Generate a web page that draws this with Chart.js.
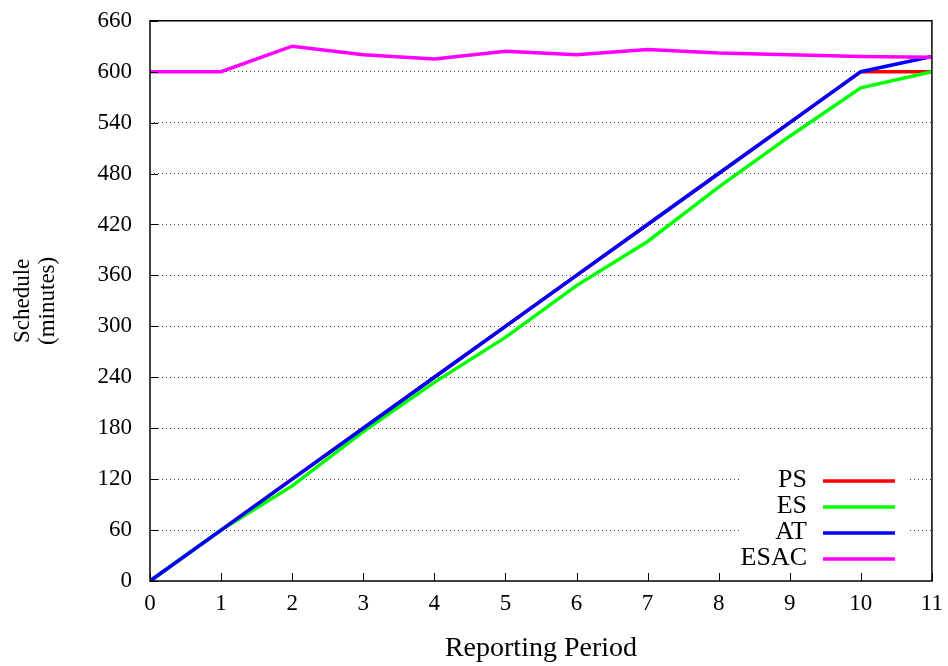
<!DOCTYPE html>
<html>
<head>
<meta charset="utf-8">
<script src="https://cdn.jsdelivr.net/npm/chart.js@4/dist/chart.umd.min.js"></script>
<style>
  html, body { margin: 0; padding: 0; background: #fff; }
  #wrap { width: 948px; height: 666px; overflow: hidden; position: relative; }
  #chart { position: absolute; left: 0; top: -3px; }
</style>
</head>
<body>
<div id="wrap"><canvas id="chart" width="952" height="669"></canvas></div>
<script>
const periods = [0, 1, 2, 3, 4, 5, 6, 7, 8, 9, 10, 11];
const psValues = [0, 60, 120, 180, 240, 300, 360, 420, 480, 540, 600, 600];
const esValues = [0, 60, 112, 176, 234, 287, 348, 400, 464, 524, 581, 600];
const atValues = [0, 60, 120, 180, 240, 300, 360, 420, 480, 540, 600, 618];
const esacValues = [600, 600, 630, 620, 615, 624, 620, 626, 622, 620, 618, 617];
const yTicks = [0, 60, 120, 180, 240, 300, 360, 420, 480, 540, 600, 660];

const fontFamily = "'Liberation Serif', 'DejaVu Serif', serif";

function toPoints(values) {
  return periods.map((p, i) => ({ x: p, y: values[i] }));
}

// frame, inward ticks and the gnuplot-style legend
const framePlugin = {
  id: "frame",
  afterDatasetsDraw(chart) {
    const ctx = chart.ctx;
    const area = chart.chartArea;
    const xScale = chart.scales.x;
    const yScale = chart.scales.y;
    ctx.save();
    ctx.strokeStyle = "#000";
    ctx.lineWidth = 1.5;
    ctx.strokeRect(area.left, area.top, area.right - area.left, area.bottom - area.top);

    ctx.lineWidth = 1;
    yTicks.forEach((v) => {
      const y = Math.round(yScale.getPixelForValue(v)) + 0.5;
      ctx.beginPath();
      ctx.moveTo(area.left, y);
      ctx.lineTo(area.left + 8, y);
      ctx.stroke();
    });
    periods.forEach((p) => {
      const x = Math.round(xScale.getPixelForValue(p)) + 0.5;
      ctx.beginPath();
      ctx.moveTo(x, area.bottom);
      ctx.lineTo(x, area.bottom - 8);
      ctx.stroke();
    });

    // legend box (white, hides the grid behind it)
    const boxLeft = 740, boxRight = 910, firstRow = 483, rowGap = 26;
    const sets = chart.data.datasets;
    ctx.fillStyle = "#fff";
    ctx.fillRect(boxLeft, firstRow - 14, boxRight - boxLeft, rowGap * sets.length + 2);
    ctx.font = "26px " + fontFamily;
    ctx.textAlign = "right";
    ctx.textBaseline = "middle";
    sets.forEach((ds, i) => {
      const y = firstRow + i * rowGap;
      ctx.fillStyle = "#000";
      ctx.fillText(ds.label, 807, y);
      ctx.strokeStyle = ds.borderColor;
      ctx.lineWidth = 3.5;
      ctx.beginPath();
      ctx.moveTo(823, y + 1);
      ctx.lineTo(895, y + 1);
      ctx.stroke();
    });
    ctx.restore();
  },
};

const lineStyle = { borderWidth: 3.5, pointRadius: 0, fill: false, tension: 0 };

new Chart(document.getElementById("chart"), {
  type: "line",
  data: {
    datasets: [
      { label: "PS", data: toPoints(psValues), borderColor: "#ff0000", order: 4, ...lineStyle },
      { label: "ES", data: toPoints(esValues), borderColor: "#00ff00", order: 3, ...lineStyle },
      { label: "AT", data: toPoints(atValues), borderColor: "#0000ff", order: 2, ...lineStyle },
      { label: "ESAC", data: toPoints(esacValues), borderColor: "#ff00ff", order: 1, ...lineStyle },
    ],
  },
  options: {
    responsive: false,
    animation: false,
    events: [],
    layout: { padding: { left: 10, right: 12, top: 11, bottom: 0 } },
    plugins: { legend: { display: false }, tooltip: { enabled: false } },
    scales: {
      x: {
        type: "linear",
        min: 0,
        max: 11,
        afterBuildTicks: (scale) => {
          scale.ticks = periods.map((p) => ({ value: p }));
        },
        afterFit: (scale) => {
          scale.height = 85;
        },
        grid: { display: false, drawTicks: false },
        border: { display: false },
        ticks: {
          padding: 9,
          color: "#000",
          font: { family: fontFamily, size: 23 },
          maxRotation: 0,
          autoSkip: false,
        },
        title: {
          display: true,
          text: "Reporting Period",
          color: "#000",
          font: { family: fontFamily, size: 28 },
          padding: { top: 6, bottom: 1 },
        },
      },
      y: {
        type: "linear",
        min: 0,
        max: 660,
        afterBuildTicks: (scale) => {
          scale.ticks = yTicks.map((v) => ({ value: v }));
        },
        afterFit: (scale) => {
          scale.width = 140;
        },
        grid: {
          color: (c) => (c.tick && (c.tick.value === 0 || c.tick.value === 660) ? "rgba(0,0,0,0)" : "#444"),
          lineWidth: 1,
          drawTicks: false,
        },
        border: { display: false, dash: [1, 3] },
        ticks: {
          padding: 18,
          color: "#000",
          font: { family: fontFamily, size: 23, lineHeight: 0.5 },
          autoSkip: false,
        },
        title: {
          display: true,
          text: ["Schedule", "(minutes)"],
          color: "#000",
          font: { family: fontFamily, size: 23, lineHeight: 1.1 },
          padding: { top: 0, bottom: 0 },
        },
      },
    },
  },
  plugins: [framePlugin],
});
</script>
</body>
</html>
